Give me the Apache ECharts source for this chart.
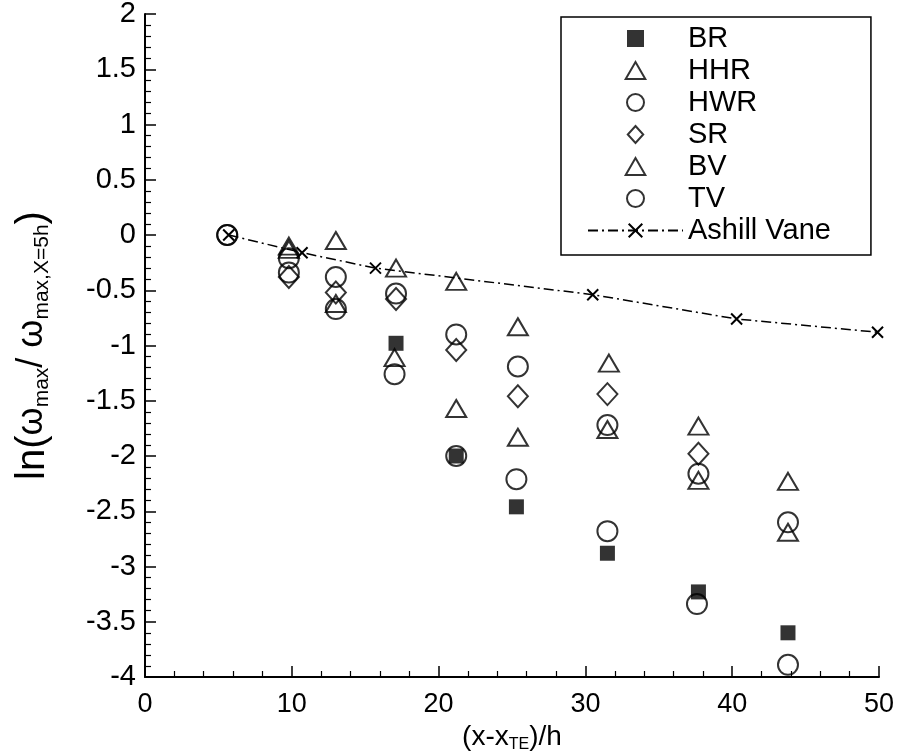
<!DOCTYPE html>
<html><head><meta charset="utf-8">
<script src="https://cdn.jsdelivr.net/npm/echarts@6/dist/echarts.min.js"></script>
<style>html,body{margin:0;padding:0;background:#fff}#c{width:897px;height:751px}</style>
</head><body><div id="c"></div>
<script>
// ---- data ----
const brX = [17.1, 21.2, 25.3, 31.5, 37.7, 43.8];
const brY = [-0.98, -2.0, -2.46, -2.88, -3.23, -3.60];
const hhrX = [9.8, 13.0, 17.1, 21.2, 25.4, 31.6, 37.7, 43.8];
const hhrY = [-0.10, -0.05, -0.30, -0.42, -0.83, -1.16, -1.73, -2.23];
const hwrX = [5.6, 9.8, 13.0, 17.1, 21.2, 25.4, 31.5, 37.7, 43.8];
const hwrY = [0, -0.21, -0.38, -0.53, -0.90, -1.19, -1.72, -2.16, -2.60];
const srX = [9.8, 13.0, 17.1, 21.2, 25.4, 31.5, 37.7];
const srY = [-0.38, -0.52, -0.58, -1.04, -1.46, -1.44, -1.98];
const bvX = [9.8, 13.0, 17.0, 21.2, 25.4, 31.5, 37.7, 43.8];
const bvY = [-0.13, -0.62, -1.11, -1.57, -1.83, -1.76, -2.22, -2.69];
const tvX = [5.6, 9.8, 13.0, 17.0, 21.2, 25.3, 31.5, 37.6, 43.8];
const tvY = [0, -0.34, -0.67, -1.26, -2.0, -2.21, -2.68, -3.34, -3.89];
const avX = [5.7, 10.7, 15.7, 30.5, 40.3, 49.9];
const avY = [0, -0.16, -0.30, -0.54, -0.76, -0.88];
const xTicks = [0, 10, 20, 30, 40, 50];
const yTicks = [-4, -3.5, -3, -2.5, -2, -1.5, -1, -0.5, 0, 0.5, 1, 1.5, 2];
const seriesNames = ['BR', 'HHR', 'HWR', 'SR', 'BV', 'TV', 'Ashill Vane'];

const zip = (a, b) => a.map((v, i) => [v, b[i]]);
const hollow = {color: 'rgba(255,255,255,0)', borderColor: '#000', borderWidth: 2};
const xPath = 'path://M0,0 L10,10 M10,0 L0,10';
const icons = {
  square: 'path://M0,0 L10,0 L10,10 L0,10 Z',
  tri: 'path://M6,0 L12,10.4 L0,10.4 Z',
  circ: 'path://M0,5 A5,5 0 1,1 10,5 A5,5 0 1,1 0,5 Z',
  dia: 'path://M5,0 L10,5.5 L5,11 L0,5.5 Z'
};
const SANS = 'Liberation Sans, Arial, sans-serif';

const chart = echarts.init(document.getElementById('c'));
chart.setOption({
  backgroundColor: '#fff',
  animation: false,
  grid: {left: 145, right: 18, top: 14, bottom: 74, containLabel: false, outerBoundsMode: 'none'},
  legend: {
    orient: 'vertical', left: 561, top: 17,
    padding: [7, 40, 10, 26],
    borderColor: '#000', borderWidth: 1.5,
    itemWidth: 95, itemHeight: 17, itemGap: 3,
    symbolKeepAspect: true,
    textStyle: {fontFamily: SANS, fontSize: 29, color: '#000'},
    data: [
      {name: seriesNames[0], icon: icons.square},
      {name: seriesNames[1], icon: icons.tri},
      {name: seriesNames[2], icon: icons.circ},
      {name: seriesNames[3], icon: icons.dia},
      {name: seriesNames[4], icon: icons.tri},
      {name: seriesNames[5], icon: icons.circ},
      {name: seriesNames[6]}
    ]
  },
  xAxis: {
    type: 'value', min: 0, max: 50, interval: 10,
    name: '{a|(x-x}{s|TE}{a|)/h}', nameLocation: 'middle', nameGap: 30,
    nameTextStyle: {rich: {
      a: {fontFamily: SANS, fontSize: 28, color: '#000'},
      s: {fontFamily: SANS, fontSize: 16, color: '#000', verticalAlign: 'bottom', padding: [16, 0, 0, 0]}
    }},
    axisLine: {onZero: false, lineStyle: {color: '#000', width: 2}},
    axisTick: {inside: true, length: 11, lineStyle: {color: '#000', width: 1.5}},
    minorTick: {show: true, splitNumber: 5, length: 6, lineStyle: {color: '#000', width: 1.2}},
    splitLine: {show: false},
    axisLabel: {margin: 14, fontFamily: SANS, fontSize: 27, color: '#000',
      formatter: v => xTicks.includes(v) ? String(v) : ''}
  },
  yAxis: {
    type: 'value', min: -4, max: 2, interval: 0.5,
    name: '{b|ln(}{a|ω}{s|max}{a|/ ω}{s|max,X=5h}{b|)}', nameLocation: 'middle', nameGap: 92, nameRotate: 90,
    nameTextStyle: {rich: {
      b: {fontFamily: SANS, fontSize: 40, color: '#000'},
      a: {fontFamily: SANS, fontSize: 36, color: '#000'},
      s: {fontFamily: SANS, fontSize: 21, color: '#000', verticalAlign: 'bottom', padding: [20, 0, 0, 0]}
    }},
    axisLine: {onZero: false, lineStyle: {color: '#000', width: 2}},
    axisTick: {inside: true, length: 11, lineStyle: {color: '#000', width: 1.5}},
    minorTick: {show: true, splitNumber: 5, length: 6, lineStyle: {color: '#000', width: 1.2}},
    splitLine: {show: false},
    axisLabel: {margin: 9, fontFamily: SANS, fontSize: 29, color: '#000',
      formatter: v => yTicks.includes(v) ? String(v) : ''}
  },
  series: [
    {name: seriesNames[0], type: 'scatter', symbol: 'rect', symbolSize: 15, itemStyle: {color: '#000', borderColor: '#000', borderWidth: 0}, data: zip(brX, brY)},
    {name: seriesNames[1], type: 'scatter', symbol: 'triangle', symbolSize: [20, 17], itemStyle: hollow, data: zip(hhrX, hhrY)},
    {name: seriesNames[2], type: 'scatter', symbol: 'circle', symbolSize: 20, itemStyle: hollow, data: zip(hwrX, hwrY)},
    {name: seriesNames[3], type: 'scatter', symbol: 'diamond', symbolSize: [20, 22], itemStyle: hollow, data: zip(srX, srY)},
    {name: seriesNames[4], type: 'scatter', symbol: 'triangle', symbolSize: [20, 17], itemStyle: hollow, data: zip(bvX, bvY)},
    {name: seriesNames[5], type: 'scatter', symbol: 'circle', symbolSize: 20, itemStyle: hollow, data: zip(tvX, tvY)},
    {name: seriesNames[6], type: 'line', symbol: xPath, symbolSize: 11, showSymbol: true,
      itemStyle: {color: 'rgba(0,0,0,0)', borderColor: '#000', borderWidth: 2},
      lineStyle: {color: '#000', width: 1.5, type: [10, 4, 2, 4]},
      data: zip(avX, avY)}
  ]
});
</script></body></html>
